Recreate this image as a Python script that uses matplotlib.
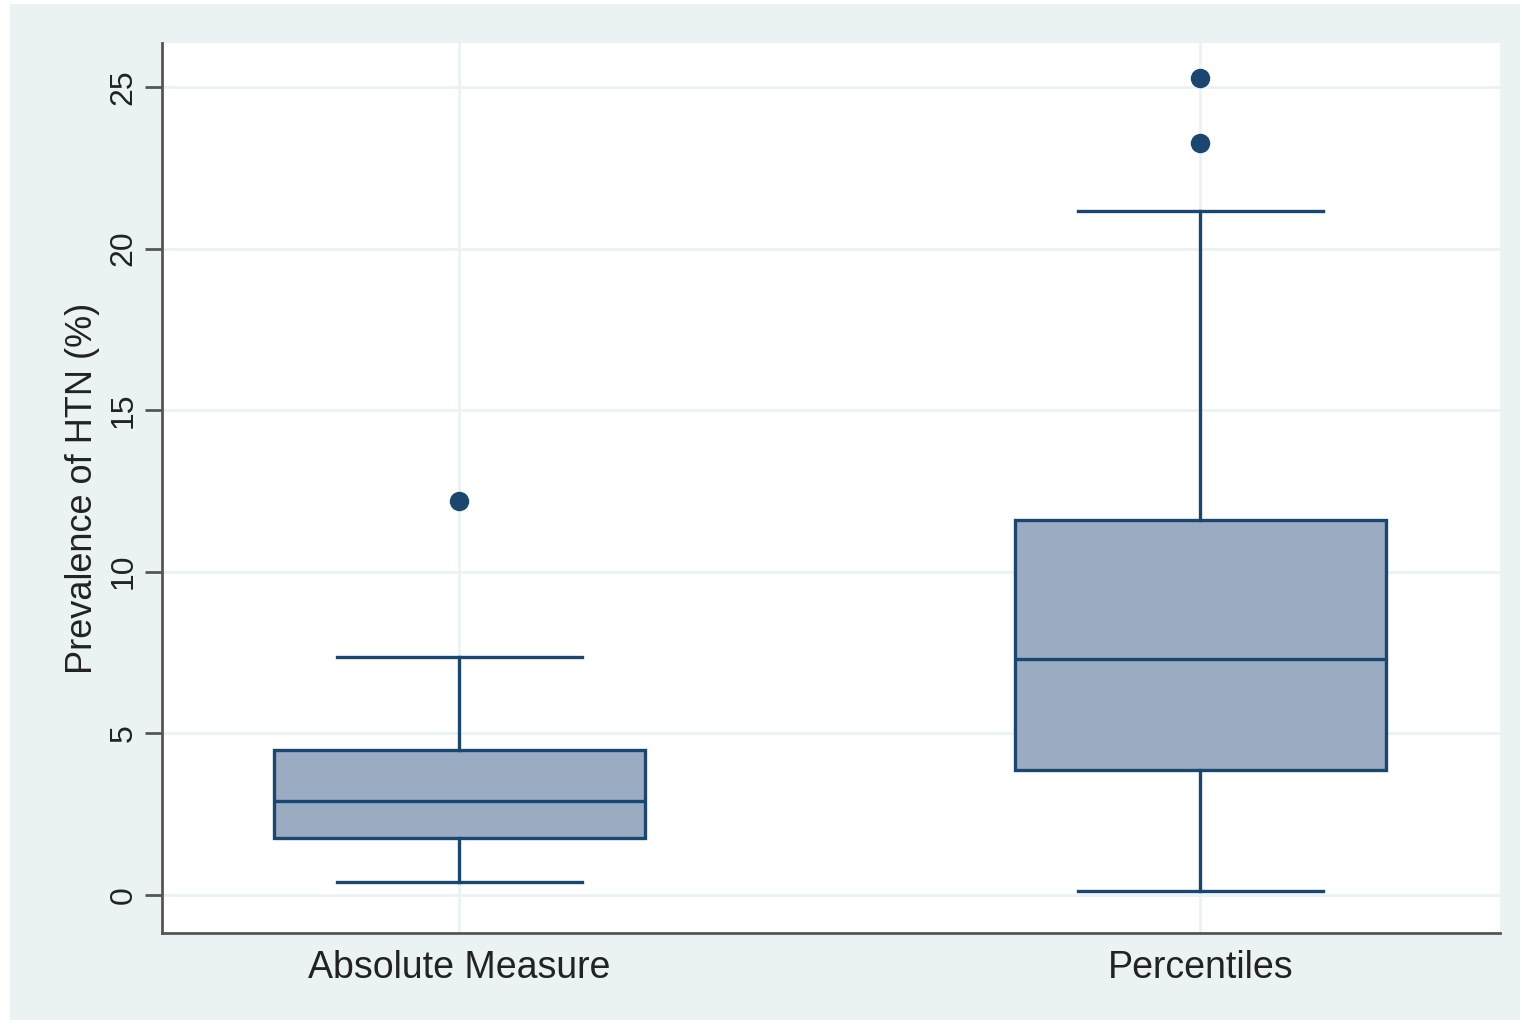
import matplotlib
matplotlib.use("Agg")
import matplotlib.pyplot as plt
from matplotlib.patches import Rectangle

plt.rcParams['font.family'] = ['Liberation Sans', 'DejaVu Sans']

categories = ["Absolute Measure", "Percentiles"]
whislo = [0.40, 0.12]
q1 = [1.76, 3.87]
med = [2.91, 7.30]
q3 = [4.49, 11.60]
whishi = [7.36, 21.16]
fliers = [[12.19], [23.27, 25.28]]
yticks = [0, 5, 10, 15, 20, 25]

navy = "#1a476f"
fill = "#9aabc2"
bg = "#eaf2f3"

fig = plt.figure(figsize=(15.22, 10.24), dpi=100)
fig.patch.set_facecolor("white")
fig.patches.append(Rectangle((10/1522, 4/1024), 1510/1522, 1016/1024,
                             transform=fig.transFigure, facecolor=bg,
                             edgecolor="none", zorder=-10))
ax = fig.add_axes([162/1522, 91/1024, 1338/1522, 890/1024])
ax.set_facecolor("white")

stats = []
for i, c in enumerate(categories):
    stats.append(dict(label=c, whislo=whislo[i], q1=q1[i], med=med[i],
                      q3=q3[i], whishi=whishi[i], fliers=fliers[i]))

ax.bxp(stats, positions=[1, 1.997], widths=0.5, patch_artist=True,
       boxprops=dict(facecolor=fill, edgecolor=navy, linewidth=2.4),
       medianprops=dict(color=navy, linewidth=2.4),
       whiskerprops=dict(color=navy, linewidth=2.4),
       capprops=dict(color=navy, linewidth=2.4),
       capwidths=0.33,
       flierprops=dict(marker='o', markerfacecolor=navy, markeredgecolor=navy,
                       markersize=13),
       zorder=3)

ax.set_xlim(0.6, 2.4)
ax.set_ylim(-1.18, 26.36)
ax.set_yticks(yticks)
ax.set_yticklabels([str(t) for t in yticks], rotation=90, va='center')
ax.grid(True, color=bg, linewidth=2.0, zorder=0)
ax.set_axisbelow(True)
for s in ["top", "right"]:
    ax.spines[s].set_visible(False)
for s in ["left", "bottom"]:
    ax.spines[s].set_color("#555555")
    ax.spines[s].set_linewidth(2.0)
ax.tick_params(axis='y', length=12, width=2, color="#555555", labelsize=23,
               labelcolor="#222222", pad=5)
ax.tick_params(axis='x', length=0, labelsize=27, labelcolor="#222222", pad=12)
ax.set_ylabel("Prevalence of HTN (%)", fontsize=26, color="#222222", labelpad=6)

fig.savefig("out.png", dpi=100, facecolor=fig.get_facecolor())
